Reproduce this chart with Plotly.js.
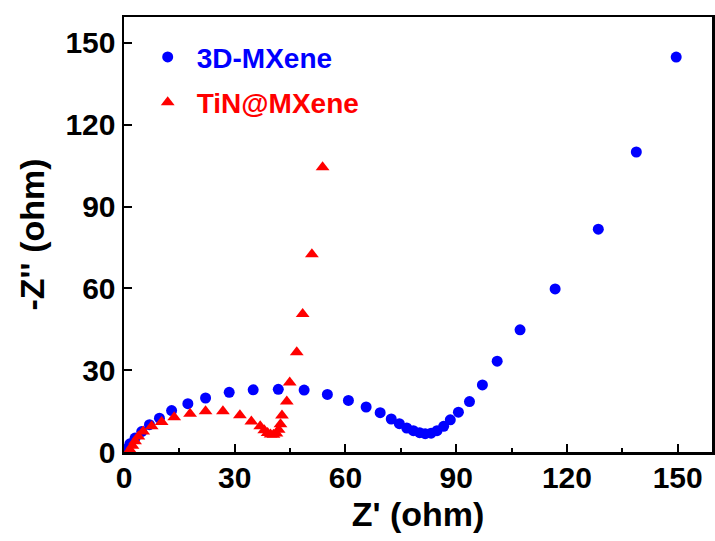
<!DOCTYPE html>
<html>
<head>
<meta charset="utf-8">
<script src="https://cdn.plot.ly/plotly-3.0.1.min.js"></script>
<style>html,body{margin:0;padding:0;background:#fff;}#chart{width:715px;height:541px;}</style>
</head>
<body>
<div id="chart"></div>
<script>
// 3D-MXene (blue circles)
const mxeneX = [0.7,1.6,3.0,4.8,6.9,9.6,12.9,17.3,22.1,28.5,35.0,41.8,48.8,55.1,60.8,65.6,69.4,72.4,74.6,76.6,78.4,80.1,81.6,83.2,84.8,86.6,88.4,90.6,93.6,97.1,101.1,107.3,116.8,128.5,138.8,149.6];
const mxeneY = [1.1,3.0,5.1,7.5,10.0,12.4,15.2,17.7,19.8,21.9,22.8,23.0,22.7,21.1,18.9,16.5,14.4,12.1,10.4,8.8,7.8,7.1,6.7,6.9,7.8,9.4,11.8,14.6,18.5,24.6,33.3,44.8,59.8,81.7,110.0,144.8];
// TiN@MXene (red triangles)
const tinX = [1.6,2.3,3.0,3.9,5.2,7.5,10.2,13.6,17.9,22.1,26.8,31.4,34.5,36.9,38.0,38.9,39.7,40.5,41.3,41.9,42.4,42.8,44.1,44.9,46.8,48.4,50.9,53.8];
const tinY = [0.8,2.3,3.9,5.7,7.5,9.4,11.0,12.7,14.0,14.9,14.9,13.5,11.2,9.4,8.0,7.0,6.4,6.3,6.8,8.2,10.2,13.4,18.5,25.5,36.6,50.6,72.5,104.4];
const names = ['3D-MXene','TiN@MXene'];
const colors = ['#0000FF','#FF0000'];
const tickVals = [0,30,60,90,120,150];

const font = 'Arial, "Liberation Sans", sans-serif';
const traces = [
  {x: mxeneX, y: mxeneY, type:'scatter', mode:'markers', name:'<span style="color:'+colors[0]+'">'+names[0]+'</span>',
   legendgroup:'a', marker:{symbol:'circle', size:11, color:colors[0]}},
  {x: tinX, y: tinY, type:'scatter', mode:'markers', name:'<span style="color:'+colors[1]+'">'+names[1]+'</span>',
   legendgroup:'b', marker:{symbol:'triangle-up', size:12, color:colors[1]}}
];
const axisCommon = {
  showgrid:false, zeroline:false, showline:true, mirror:true, linecolor:'#000', linewidth:2.5,
  ticks:'inside', ticklen:8, tickwidth:2, tickcolor:'#000',
  tickvals: tickVals, ticktext: tickVals.map(String),
  tickfont:{family:font, size:30, color:'#000', weight:'bold'}
};
const layout = {
  width:715, height:541,
  margin:{l:124, r:3, t:17, b:89},
  paper_bgcolor:'#fff', plot_bgcolor:'#fff',
  showlegend:true,
  legend:{x:0.025, y:0.965, xanchor:'left', yanchor:'top', bgcolor:'rgba(0,0,0,0)',
    font:{family:font, size:28, weight:'bold'}, itemwidth:48, tracegroupgap:6, traceorder:'grouped'},
  xaxis: Object.assign({}, axisCommon, {range:[0,159.3], ticklabelstandoff:-3,
    minor:{tickvals:[15,45,75,105,135], ticks:'inside', ticklen:4, tickwidth:2, tickcolor:'#000'},
    title:{text:"Z' (ohm)", font:{family:font, size:34, color:'#000', weight:'bold'}, standoff:10}}),
  yaxis: Object.assign({}, axisCommon, {range:[0,159.5],
    title:{text:"-Z'' (ohm)", font:{family:font, size:34, color:'#000', weight:'bold'}, standoff:11}})
};
Plotly.newPlot('chart', traces, layout, {displayModeBar:false, staticPlot:true});
</script>
</body>
</html>
